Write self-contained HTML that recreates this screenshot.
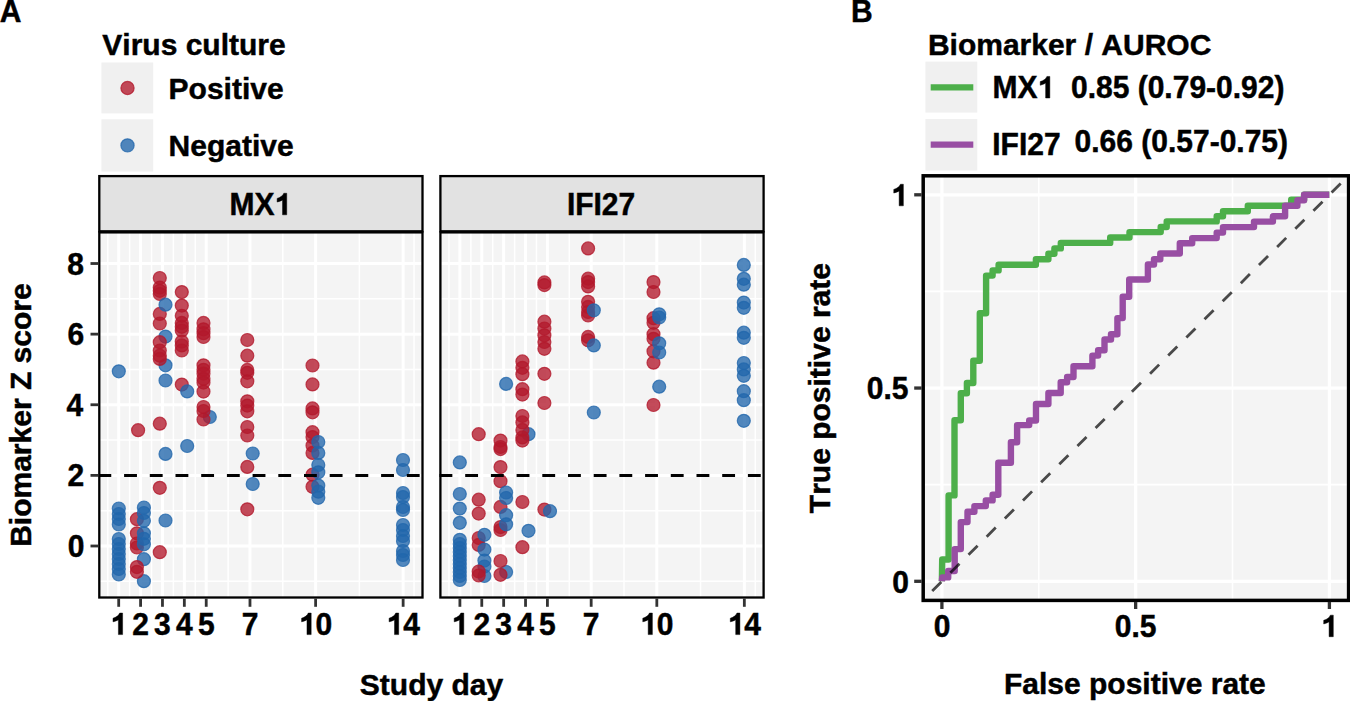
<!DOCTYPE html>
<html><head><meta charset="utf-8"><style>
html,body{margin:0;padding:0;background:#fff;}
svg{display:block;}
</style></head><body>
<svg width="1350" height="701" viewBox="0 0 1350 701">
<rect x="0" y="0" width="1350" height="701" fill="#fff"/>
<rect x="101.4" y="62.5" width="51.8" height="50.9" fill="#f0f0f0"/>
<rect x="101.4" y="119.3" width="51.8" height="52.3" fill="#f0f0f0"/>
<rect x="925.4" y="61.6" width="51.9" height="51.0" fill="#f0f0f0"/>
<rect x="925.4" y="119.0" width="51.9" height="51.6" fill="#f0f0f0"/>
<circle cx="127.5" cy="88.0" r="6.6" fill="#b2182b" fill-opacity="0.78" stroke="#b2182b" stroke-opacity="0.78" stroke-width="1.2"/>
<circle cx="127.5" cy="145.4" r="6.6" fill="#2166ac" fill-opacity="0.78" stroke="#2166ac" stroke-opacity="0.78" stroke-width="1.2"/>
<line x1="930.7" y1="87.3" x2="973.3" y2="87.3" stroke="#4daf4a" stroke-width="6.2"/>
<line x1="930.7" y1="144.6" x2="973.3" y2="144.6" stroke="#984ea3" stroke-width="6.2"/>
<rect x="99.3" y="231.3" width="323.20" height="366.20" fill="#f4f4f4"/>
<line x1="107.76" y1="231.3" x2="107.76" y2="597.5" stroke="#fff" stroke-width="1.5"/>
<line x1="129.64" y1="231.3" x2="129.64" y2="597.5" stroke="#fff" stroke-width="1.5"/>
<line x1="151.52" y1="231.3" x2="151.52" y2="597.5" stroke="#fff" stroke-width="1.5"/>
<line x1="173.40" y1="231.3" x2="173.40" y2="597.5" stroke="#fff" stroke-width="1.5"/>
<line x1="195.28" y1="231.3" x2="195.28" y2="597.5" stroke="#fff" stroke-width="1.5"/>
<line x1="228.10" y1="231.3" x2="228.10" y2="597.5" stroke="#fff" stroke-width="1.5"/>
<line x1="282.80" y1="231.3" x2="282.80" y2="597.5" stroke="#fff" stroke-width="1.5"/>
<line x1="359.38" y1="231.3" x2="359.38" y2="597.5" stroke="#fff" stroke-width="1.5"/>
<line x1="414.08" y1="231.3" x2="414.08" y2="597.5" stroke="#fff" stroke-width="1.5"/>
<line x1="99.3" y1="581.31" x2="422.5" y2="581.31" stroke="#fff" stroke-width="1.5"/>
<line x1="99.3" y1="510.69" x2="422.5" y2="510.69" stroke="#fff" stroke-width="1.5"/>
<line x1="99.3" y1="440.07" x2="422.5" y2="440.07" stroke="#fff" stroke-width="1.5"/>
<line x1="99.3" y1="369.45" x2="422.5" y2="369.45" stroke="#fff" stroke-width="1.5"/>
<line x1="99.3" y1="298.83" x2="422.5" y2="298.83" stroke="#fff" stroke-width="1.5"/>
<line x1="118.70" y1="231.3" x2="118.70" y2="597.5" stroke="#fff" stroke-width="3"/>
<line x1="140.58" y1="231.3" x2="140.58" y2="597.5" stroke="#fff" stroke-width="3"/>
<line x1="162.46" y1="231.3" x2="162.46" y2="597.5" stroke="#fff" stroke-width="3"/>
<line x1="184.34" y1="231.3" x2="184.34" y2="597.5" stroke="#fff" stroke-width="3"/>
<line x1="206.22" y1="231.3" x2="206.22" y2="597.5" stroke="#fff" stroke-width="3"/>
<line x1="249.98" y1="231.3" x2="249.98" y2="597.5" stroke="#fff" stroke-width="3"/>
<line x1="315.62" y1="231.3" x2="315.62" y2="597.5" stroke="#fff" stroke-width="3"/>
<line x1="403.14" y1="231.3" x2="403.14" y2="597.5" stroke="#fff" stroke-width="3"/>
<line x1="99.3" y1="546.00" x2="422.5" y2="546.00" stroke="#fff" stroke-width="3"/>
<line x1="99.3" y1="475.38" x2="422.5" y2="475.38" stroke="#fff" stroke-width="3"/>
<line x1="99.3" y1="404.76" x2="422.5" y2="404.76" stroke="#fff" stroke-width="3"/>
<line x1="99.3" y1="334.14" x2="422.5" y2="334.14" stroke="#fff" stroke-width="3"/>
<line x1="99.3" y1="263.52" x2="422.5" y2="263.52" stroke="#fff" stroke-width="3"/>
<rect x="440.4" y="231.3" width="323.20" height="366.20" fill="#f4f4f4"/>
<line x1="448.96" y1="231.3" x2="448.96" y2="597.5" stroke="#fff" stroke-width="1.5"/>
<line x1="470.84" y1="231.3" x2="470.84" y2="597.5" stroke="#fff" stroke-width="1.5"/>
<line x1="492.72" y1="231.3" x2="492.72" y2="597.5" stroke="#fff" stroke-width="1.5"/>
<line x1="514.60" y1="231.3" x2="514.60" y2="597.5" stroke="#fff" stroke-width="1.5"/>
<line x1="536.48" y1="231.3" x2="536.48" y2="597.5" stroke="#fff" stroke-width="1.5"/>
<line x1="569.30" y1="231.3" x2="569.30" y2="597.5" stroke="#fff" stroke-width="1.5"/>
<line x1="624.00" y1="231.3" x2="624.00" y2="597.5" stroke="#fff" stroke-width="1.5"/>
<line x1="700.58" y1="231.3" x2="700.58" y2="597.5" stroke="#fff" stroke-width="1.5"/>
<line x1="755.28" y1="231.3" x2="755.28" y2="597.5" stroke="#fff" stroke-width="1.5"/>
<line x1="440.4" y1="581.31" x2="763.6" y2="581.31" stroke="#fff" stroke-width="1.5"/>
<line x1="440.4" y1="510.69" x2="763.6" y2="510.69" stroke="#fff" stroke-width="1.5"/>
<line x1="440.4" y1="440.07" x2="763.6" y2="440.07" stroke="#fff" stroke-width="1.5"/>
<line x1="440.4" y1="369.45" x2="763.6" y2="369.45" stroke="#fff" stroke-width="1.5"/>
<line x1="440.4" y1="298.83" x2="763.6" y2="298.83" stroke="#fff" stroke-width="1.5"/>
<line x1="459.90" y1="231.3" x2="459.90" y2="597.5" stroke="#fff" stroke-width="3"/>
<line x1="481.78" y1="231.3" x2="481.78" y2="597.5" stroke="#fff" stroke-width="3"/>
<line x1="503.66" y1="231.3" x2="503.66" y2="597.5" stroke="#fff" stroke-width="3"/>
<line x1="525.54" y1="231.3" x2="525.54" y2="597.5" stroke="#fff" stroke-width="3"/>
<line x1="547.42" y1="231.3" x2="547.42" y2="597.5" stroke="#fff" stroke-width="3"/>
<line x1="591.18" y1="231.3" x2="591.18" y2="597.5" stroke="#fff" stroke-width="3"/>
<line x1="656.82" y1="231.3" x2="656.82" y2="597.5" stroke="#fff" stroke-width="3"/>
<line x1="744.34" y1="231.3" x2="744.34" y2="597.5" stroke="#fff" stroke-width="3"/>
<line x1="440.4" y1="546.00" x2="763.6" y2="546.00" stroke="#fff" stroke-width="3"/>
<line x1="440.4" y1="475.38" x2="763.6" y2="475.38" stroke="#fff" stroke-width="3"/>
<line x1="440.4" y1="404.76" x2="763.6" y2="404.76" stroke="#fff" stroke-width="3"/>
<line x1="440.4" y1="334.14" x2="763.6" y2="334.14" stroke="#fff" stroke-width="3"/>
<line x1="440.4" y1="263.52" x2="763.6" y2="263.52" stroke="#fff" stroke-width="3"/>
<circle cx="118.8" cy="371.3" r="6.5" fill="#2166ac" fill-opacity="0.78" stroke="#2166ac" stroke-opacity="0.78" stroke-width="1.2"/>
<circle cx="118.8" cy="508.5" r="6.5" fill="#2166ac" fill-opacity="0.78" stroke="#2166ac" stroke-opacity="0.78" stroke-width="1.2"/>
<circle cx="118.8" cy="514.0" r="6.5" fill="#2166ac" fill-opacity="0.78" stroke="#2166ac" stroke-opacity="0.78" stroke-width="1.2"/>
<circle cx="118.8" cy="519.0" r="6.5" fill="#2166ac" fill-opacity="0.78" stroke="#2166ac" stroke-opacity="0.78" stroke-width="1.2"/>
<circle cx="118.8" cy="524.5" r="6.5" fill="#2166ac" fill-opacity="0.78" stroke="#2166ac" stroke-opacity="0.78" stroke-width="1.2"/>
<circle cx="118.8" cy="539.0" r="6.5" fill="#2166ac" fill-opacity="0.78" stroke="#2166ac" stroke-opacity="0.78" stroke-width="1.2"/>
<circle cx="118.8" cy="544.0" r="6.5" fill="#2166ac" fill-opacity="0.78" stroke="#2166ac" stroke-opacity="0.78" stroke-width="1.2"/>
<circle cx="118.8" cy="549.0" r="6.5" fill="#2166ac" fill-opacity="0.78" stroke="#2166ac" stroke-opacity="0.78" stroke-width="1.2"/>
<circle cx="118.8" cy="554.0" r="6.5" fill="#2166ac" fill-opacity="0.78" stroke="#2166ac" stroke-opacity="0.78" stroke-width="1.2"/>
<circle cx="118.8" cy="559.0" r="6.5" fill="#2166ac" fill-opacity="0.78" stroke="#2166ac" stroke-opacity="0.78" stroke-width="1.2"/>
<circle cx="118.8" cy="564.0" r="6.5" fill="#2166ac" fill-opacity="0.78" stroke="#2166ac" stroke-opacity="0.78" stroke-width="1.2"/>
<circle cx="118.8" cy="569.0" r="6.5" fill="#2166ac" fill-opacity="0.78" stroke="#2166ac" stroke-opacity="0.78" stroke-width="1.2"/>
<circle cx="118.8" cy="574.5" r="6.5" fill="#2166ac" fill-opacity="0.78" stroke="#2166ac" stroke-opacity="0.78" stroke-width="1.2"/>
<circle cx="138.1" cy="430.2" r="6.5" fill="#b2182b" fill-opacity="0.78" stroke="#b2182b" stroke-opacity="0.78" stroke-width="1.2"/>
<circle cx="136.9" cy="519.2" r="6.5" fill="#b2182b" fill-opacity="0.78" stroke="#b2182b" stroke-opacity="0.78" stroke-width="1.2"/>
<circle cx="136.9" cy="533.3" r="6.5" fill="#b2182b" fill-opacity="0.78" stroke="#b2182b" stroke-opacity="0.78" stroke-width="1.2"/>
<circle cx="136.9" cy="543.5" r="6.5" fill="#b2182b" fill-opacity="0.78" stroke="#b2182b" stroke-opacity="0.78" stroke-width="1.2"/>
<circle cx="136.9" cy="547.5" r="6.5" fill="#b2182b" fill-opacity="0.78" stroke="#b2182b" stroke-opacity="0.78" stroke-width="1.2"/>
<circle cx="143.9" cy="507.5" r="6.5" fill="#2166ac" fill-opacity="0.78" stroke="#2166ac" stroke-opacity="0.78" stroke-width="1.2"/>
<circle cx="143.9" cy="513.0" r="6.5" fill="#2166ac" fill-opacity="0.78" stroke="#2166ac" stroke-opacity="0.78" stroke-width="1.2"/>
<circle cx="143.9" cy="520.8" r="6.5" fill="#2166ac" fill-opacity="0.78" stroke="#2166ac" stroke-opacity="0.78" stroke-width="1.2"/>
<circle cx="143.9" cy="533.3" r="6.5" fill="#2166ac" fill-opacity="0.78" stroke="#2166ac" stroke-opacity="0.78" stroke-width="1.2"/>
<circle cx="143.9" cy="538.8" r="6.5" fill="#2166ac" fill-opacity="0.78" stroke="#2166ac" stroke-opacity="0.78" stroke-width="1.2"/>
<circle cx="143.9" cy="544.3" r="6.5" fill="#2166ac" fill-opacity="0.78" stroke="#2166ac" stroke-opacity="0.78" stroke-width="1.2"/>
<circle cx="143.9" cy="559.2" r="6.5" fill="#2166ac" fill-opacity="0.78" stroke="#2166ac" stroke-opacity="0.78" stroke-width="1.2"/>
<circle cx="143.9" cy="581.2" r="6.5" fill="#2166ac" fill-opacity="0.78" stroke="#2166ac" stroke-opacity="0.78" stroke-width="1.2"/>
<circle cx="136.9" cy="567.1" r="6.5" fill="#b2182b" fill-opacity="0.78" stroke="#b2182b" stroke-opacity="0.78" stroke-width="1.2"/>
<circle cx="136.9" cy="571.8" r="6.5" fill="#b2182b" fill-opacity="0.78" stroke="#b2182b" stroke-opacity="0.78" stroke-width="1.2"/>
<circle cx="159.8" cy="278.0" r="6.5" fill="#b2182b" fill-opacity="0.78" stroke="#b2182b" stroke-opacity="0.78" stroke-width="1.2"/>
<circle cx="159.8" cy="287.6" r="6.5" fill="#b2182b" fill-opacity="0.78" stroke="#b2182b" stroke-opacity="0.78" stroke-width="1.2"/>
<circle cx="159.8" cy="290.8" r="6.5" fill="#b2182b" fill-opacity="0.78" stroke="#b2182b" stroke-opacity="0.78" stroke-width="1.2"/>
<circle cx="159.8" cy="294.0" r="6.5" fill="#b2182b" fill-opacity="0.78" stroke="#b2182b" stroke-opacity="0.78" stroke-width="1.2"/>
<circle cx="159.8" cy="313.9" r="6.5" fill="#b2182b" fill-opacity="0.78" stroke="#b2182b" stroke-opacity="0.78" stroke-width="1.2"/>
<circle cx="159.8" cy="323.5" r="6.5" fill="#b2182b" fill-opacity="0.78" stroke="#b2182b" stroke-opacity="0.78" stroke-width="1.2"/>
<circle cx="159.8" cy="423.7" r="6.5" fill="#b2182b" fill-opacity="0.78" stroke="#b2182b" stroke-opacity="0.78" stroke-width="1.2"/>
<circle cx="159.8" cy="487.8" r="6.5" fill="#b2182b" fill-opacity="0.78" stroke="#b2182b" stroke-opacity="0.78" stroke-width="1.2"/>
<circle cx="159.8" cy="552.2" r="6.5" fill="#b2182b" fill-opacity="0.78" stroke="#b2182b" stroke-opacity="0.78" stroke-width="1.2"/>
<circle cx="165.5" cy="304.7" r="6.5" fill="#2166ac" fill-opacity="0.78" stroke="#2166ac" stroke-opacity="0.78" stroke-width="1.2"/>
<circle cx="165.5" cy="336.6" r="6.5" fill="#2166ac" fill-opacity="0.78" stroke="#2166ac" stroke-opacity="0.78" stroke-width="1.2"/>
<circle cx="165.5" cy="365.3" r="6.5" fill="#2166ac" fill-opacity="0.78" stroke="#2166ac" stroke-opacity="0.78" stroke-width="1.2"/>
<circle cx="165.5" cy="380.5" r="6.5" fill="#2166ac" fill-opacity="0.78" stroke="#2166ac" stroke-opacity="0.78" stroke-width="1.2"/>
<circle cx="165.5" cy="453.9" r="6.5" fill="#2166ac" fill-opacity="0.78" stroke="#2166ac" stroke-opacity="0.78" stroke-width="1.2"/>
<circle cx="165.5" cy="520.5" r="6.5" fill="#2166ac" fill-opacity="0.78" stroke="#2166ac" stroke-opacity="0.78" stroke-width="1.2"/>
<circle cx="159.8" cy="342.2" r="6.5" fill="#b2182b" fill-opacity="0.78" stroke="#b2182b" stroke-opacity="0.78" stroke-width="1.2"/>
<circle cx="159.8" cy="350.5" r="6.5" fill="#b2182b" fill-opacity="0.78" stroke="#b2182b" stroke-opacity="0.78" stroke-width="1.2"/>
<circle cx="159.8" cy="355.7" r="6.5" fill="#b2182b" fill-opacity="0.78" stroke="#b2182b" stroke-opacity="0.78" stroke-width="1.2"/>
<circle cx="159.8" cy="358.9" r="6.5" fill="#b2182b" fill-opacity="0.78" stroke="#b2182b" stroke-opacity="0.78" stroke-width="1.2"/>
<circle cx="181.8" cy="292.1" r="6.5" fill="#b2182b" fill-opacity="0.78" stroke="#b2182b" stroke-opacity="0.78" stroke-width="1.2"/>
<circle cx="181.8" cy="305.6" r="6.5" fill="#b2182b" fill-opacity="0.78" stroke="#b2182b" stroke-opacity="0.78" stroke-width="1.2"/>
<circle cx="181.8" cy="315.8" r="6.5" fill="#b2182b" fill-opacity="0.78" stroke="#b2182b" stroke-opacity="0.78" stroke-width="1.2"/>
<circle cx="181.8" cy="322.9" r="6.5" fill="#b2182b" fill-opacity="0.78" stroke="#b2182b" stroke-opacity="0.78" stroke-width="1.2"/>
<circle cx="181.8" cy="326.8" r="6.5" fill="#b2182b" fill-opacity="0.78" stroke="#b2182b" stroke-opacity="0.78" stroke-width="1.2"/>
<circle cx="181.8" cy="330.6" r="6.5" fill="#b2182b" fill-opacity="0.78" stroke="#b2182b" stroke-opacity="0.78" stroke-width="1.2"/>
<circle cx="181.8" cy="341.6" r="6.5" fill="#b2182b" fill-opacity="0.78" stroke="#b2182b" stroke-opacity="0.78" stroke-width="1.2"/>
<circle cx="181.8" cy="345.4" r="6.5" fill="#b2182b" fill-opacity="0.78" stroke="#b2182b" stroke-opacity="0.78" stroke-width="1.2"/>
<circle cx="181.8" cy="350.5" r="6.5" fill="#b2182b" fill-opacity="0.78" stroke="#b2182b" stroke-opacity="0.78" stroke-width="1.2"/>
<circle cx="181.8" cy="384.6" r="6.5" fill="#b2182b" fill-opacity="0.78" stroke="#b2182b" stroke-opacity="0.78" stroke-width="1.2"/>
<circle cx="187.2" cy="391.4" r="6.5" fill="#2166ac" fill-opacity="0.78" stroke="#2166ac" stroke-opacity="0.78" stroke-width="1.2"/>
<circle cx="187.2" cy="446.0" r="6.5" fill="#2166ac" fill-opacity="0.78" stroke="#2166ac" stroke-opacity="0.78" stroke-width="1.2"/>
<circle cx="209.8" cy="417.0" r="6.5" fill="#2166ac" fill-opacity="0.78" stroke="#2166ac" stroke-opacity="0.78" stroke-width="1.2"/>
<circle cx="203.5" cy="322.9" r="6.5" fill="#b2182b" fill-opacity="0.78" stroke="#b2182b" stroke-opacity="0.78" stroke-width="1.2"/>
<circle cx="203.5" cy="329.3" r="6.5" fill="#b2182b" fill-opacity="0.78" stroke="#b2182b" stroke-opacity="0.78" stroke-width="1.2"/>
<circle cx="203.5" cy="333.2" r="6.5" fill="#b2182b" fill-opacity="0.78" stroke="#b2182b" stroke-opacity="0.78" stroke-width="1.2"/>
<circle cx="203.5" cy="337.0" r="6.5" fill="#b2182b" fill-opacity="0.78" stroke="#b2182b" stroke-opacity="0.78" stroke-width="1.2"/>
<circle cx="203.5" cy="365.3" r="6.5" fill="#b2182b" fill-opacity="0.78" stroke="#b2182b" stroke-opacity="0.78" stroke-width="1.2"/>
<circle cx="203.5" cy="369.8" r="6.5" fill="#b2182b" fill-opacity="0.78" stroke="#b2182b" stroke-opacity="0.78" stroke-width="1.2"/>
<circle cx="203.5" cy="373.6" r="6.5" fill="#b2182b" fill-opacity="0.78" stroke="#b2182b" stroke-opacity="0.78" stroke-width="1.2"/>
<circle cx="203.5" cy="378.8" r="6.5" fill="#b2182b" fill-opacity="0.78" stroke="#b2182b" stroke-opacity="0.78" stroke-width="1.2"/>
<circle cx="203.5" cy="382.6" r="6.5" fill="#b2182b" fill-opacity="0.78" stroke="#b2182b" stroke-opacity="0.78" stroke-width="1.2"/>
<circle cx="203.5" cy="391.6" r="6.5" fill="#b2182b" fill-opacity="0.78" stroke="#b2182b" stroke-opacity="0.78" stroke-width="1.2"/>
<circle cx="203.5" cy="407.0" r="6.5" fill="#b2182b" fill-opacity="0.78" stroke="#b2182b" stroke-opacity="0.78" stroke-width="1.2"/>
<circle cx="203.5" cy="411.0" r="6.5" fill="#b2182b" fill-opacity="0.78" stroke="#b2182b" stroke-opacity="0.78" stroke-width="1.2"/>
<circle cx="203.5" cy="419.5" r="6.5" fill="#b2182b" fill-opacity="0.78" stroke="#b2182b" stroke-opacity="0.78" stroke-width="1.2"/>
<circle cx="247.3" cy="340.0" r="6.5" fill="#b2182b" fill-opacity="0.78" stroke="#b2182b" stroke-opacity="0.78" stroke-width="1.2"/>
<circle cx="247.3" cy="355.7" r="6.5" fill="#b2182b" fill-opacity="0.78" stroke="#b2182b" stroke-opacity="0.78" stroke-width="1.2"/>
<circle cx="247.3" cy="369.9" r="6.5" fill="#b2182b" fill-opacity="0.78" stroke="#b2182b" stroke-opacity="0.78" stroke-width="1.2"/>
<circle cx="247.3" cy="372.8" r="6.5" fill="#b2182b" fill-opacity="0.78" stroke="#b2182b" stroke-opacity="0.78" stroke-width="1.2"/>
<circle cx="247.3" cy="381.3" r="6.5" fill="#b2182b" fill-opacity="0.78" stroke="#b2182b" stroke-opacity="0.78" stroke-width="1.2"/>
<circle cx="247.3" cy="401.3" r="6.5" fill="#b2182b" fill-opacity="0.78" stroke="#b2182b" stroke-opacity="0.78" stroke-width="1.2"/>
<circle cx="247.3" cy="405.6" r="6.5" fill="#b2182b" fill-opacity="0.78" stroke="#b2182b" stroke-opacity="0.78" stroke-width="1.2"/>
<circle cx="247.3" cy="411.3" r="6.5" fill="#b2182b" fill-opacity="0.78" stroke="#b2182b" stroke-opacity="0.78" stroke-width="1.2"/>
<circle cx="247.3" cy="427.0" r="6.5" fill="#b2182b" fill-opacity="0.78" stroke="#b2182b" stroke-opacity="0.78" stroke-width="1.2"/>
<circle cx="247.3" cy="435.5" r="6.5" fill="#b2182b" fill-opacity="0.78" stroke="#b2182b" stroke-opacity="0.78" stroke-width="1.2"/>
<circle cx="247.3" cy="466.9" r="6.5" fill="#b2182b" fill-opacity="0.78" stroke="#b2182b" stroke-opacity="0.78" stroke-width="1.2"/>
<circle cx="247.3" cy="509.3" r="6.5" fill="#b2182b" fill-opacity="0.78" stroke="#b2182b" stroke-opacity="0.78" stroke-width="1.2"/>
<circle cx="252.7" cy="453.5" r="6.5" fill="#2166ac" fill-opacity="0.78" stroke="#2166ac" stroke-opacity="0.78" stroke-width="1.2"/>
<circle cx="252.7" cy="484.0" r="6.5" fill="#2166ac" fill-opacity="0.78" stroke="#2166ac" stroke-opacity="0.78" stroke-width="1.2"/>
<circle cx="312.5" cy="365.5" r="6.5" fill="#b2182b" fill-opacity="0.78" stroke="#b2182b" stroke-opacity="0.78" stroke-width="1.2"/>
<circle cx="312.5" cy="384.4" r="6.5" fill="#b2182b" fill-opacity="0.78" stroke="#b2182b" stroke-opacity="0.78" stroke-width="1.2"/>
<circle cx="312.5" cy="408.4" r="6.5" fill="#b2182b" fill-opacity="0.78" stroke="#b2182b" stroke-opacity="0.78" stroke-width="1.2"/>
<circle cx="312.5" cy="412.3" r="6.5" fill="#b2182b" fill-opacity="0.78" stroke="#b2182b" stroke-opacity="0.78" stroke-width="1.2"/>
<circle cx="312.5" cy="432.2" r="6.5" fill="#b2182b" fill-opacity="0.78" stroke="#b2182b" stroke-opacity="0.78" stroke-width="1.2"/>
<circle cx="312.5" cy="437.1" r="6.5" fill="#b2182b" fill-opacity="0.78" stroke="#b2182b" stroke-opacity="0.78" stroke-width="1.2"/>
<circle cx="312.5" cy="445.6" r="6.5" fill="#b2182b" fill-opacity="0.78" stroke="#b2182b" stroke-opacity="0.78" stroke-width="1.2"/>
<circle cx="312.5" cy="452.9" r="6.5" fill="#b2182b" fill-opacity="0.78" stroke="#b2182b" stroke-opacity="0.78" stroke-width="1.2"/>
<circle cx="312.5" cy="474.7" r="6.5" fill="#b2182b" fill-opacity="0.78" stroke="#b2182b" stroke-opacity="0.78" stroke-width="1.2"/>
<circle cx="312.5" cy="486.8" r="6.5" fill="#b2182b" fill-opacity="0.78" stroke="#b2182b" stroke-opacity="0.78" stroke-width="1.2"/>
<circle cx="318.3" cy="442.0" r="6.5" fill="#2166ac" fill-opacity="0.78" stroke="#2166ac" stroke-opacity="0.78" stroke-width="1.2"/>
<circle cx="318.3" cy="452.9" r="6.5" fill="#2166ac" fill-opacity="0.78" stroke="#2166ac" stroke-opacity="0.78" stroke-width="1.2"/>
<circle cx="318.3" cy="465.0" r="6.5" fill="#2166ac" fill-opacity="0.78" stroke="#2166ac" stroke-opacity="0.78" stroke-width="1.2"/>
<circle cx="318.3" cy="472.3" r="6.5" fill="#2166ac" fill-opacity="0.78" stroke="#2166ac" stroke-opacity="0.78" stroke-width="1.2"/>
<circle cx="318.3" cy="485.6" r="6.5" fill="#2166ac" fill-opacity="0.78" stroke="#2166ac" stroke-opacity="0.78" stroke-width="1.2"/>
<circle cx="318.3" cy="491.7" r="6.5" fill="#2166ac" fill-opacity="0.78" stroke="#2166ac" stroke-opacity="0.78" stroke-width="1.2"/>
<circle cx="318.3" cy="497.8" r="6.5" fill="#2166ac" fill-opacity="0.78" stroke="#2166ac" stroke-opacity="0.78" stroke-width="1.2"/>
<circle cx="403.0" cy="460.0" r="6.5" fill="#2166ac" fill-opacity="0.78" stroke="#2166ac" stroke-opacity="0.78" stroke-width="1.2"/>
<circle cx="403.0" cy="470.0" r="6.5" fill="#2166ac" fill-opacity="0.78" stroke="#2166ac" stroke-opacity="0.78" stroke-width="1.2"/>
<circle cx="403.0" cy="493.0" r="6.5" fill="#2166ac" fill-opacity="0.78" stroke="#2166ac" stroke-opacity="0.78" stroke-width="1.2"/>
<circle cx="403.0" cy="497.0" r="6.5" fill="#2166ac" fill-opacity="0.78" stroke="#2166ac" stroke-opacity="0.78" stroke-width="1.2"/>
<circle cx="403.0" cy="507.0" r="6.5" fill="#2166ac" fill-opacity="0.78" stroke="#2166ac" stroke-opacity="0.78" stroke-width="1.2"/>
<circle cx="403.0" cy="510.0" r="6.5" fill="#2166ac" fill-opacity="0.78" stroke="#2166ac" stroke-opacity="0.78" stroke-width="1.2"/>
<circle cx="403.0" cy="525.0" r="6.5" fill="#2166ac" fill-opacity="0.78" stroke="#2166ac" stroke-opacity="0.78" stroke-width="1.2"/>
<circle cx="403.0" cy="530.0" r="6.5" fill="#2166ac" fill-opacity="0.78" stroke="#2166ac" stroke-opacity="0.78" stroke-width="1.2"/>
<circle cx="403.0" cy="536.0" r="6.5" fill="#2166ac" fill-opacity="0.78" stroke="#2166ac" stroke-opacity="0.78" stroke-width="1.2"/>
<circle cx="403.0" cy="541.0" r="6.5" fill="#2166ac" fill-opacity="0.78" stroke="#2166ac" stroke-opacity="0.78" stroke-width="1.2"/>
<circle cx="403.0" cy="551.0" r="6.5" fill="#2166ac" fill-opacity="0.78" stroke="#2166ac" stroke-opacity="0.78" stroke-width="1.2"/>
<circle cx="403.0" cy="555.0" r="6.5" fill="#2166ac" fill-opacity="0.78" stroke="#2166ac" stroke-opacity="0.78" stroke-width="1.2"/>
<circle cx="403.0" cy="560.0" r="6.5" fill="#2166ac" fill-opacity="0.78" stroke="#2166ac" stroke-opacity="0.78" stroke-width="1.2"/>
<circle cx="459.8" cy="462.4" r="6.5" fill="#2166ac" fill-opacity="0.78" stroke="#2166ac" stroke-opacity="0.78" stroke-width="1.2"/>
<circle cx="459.8" cy="494.0" r="6.5" fill="#2166ac" fill-opacity="0.78" stroke="#2166ac" stroke-opacity="0.78" stroke-width="1.2"/>
<circle cx="459.8" cy="508.6" r="6.5" fill="#2166ac" fill-opacity="0.78" stroke="#2166ac" stroke-opacity="0.78" stroke-width="1.2"/>
<circle cx="459.8" cy="522.8" r="6.5" fill="#2166ac" fill-opacity="0.78" stroke="#2166ac" stroke-opacity="0.78" stroke-width="1.2"/>
<circle cx="459.8" cy="539.8" r="6.5" fill="#2166ac" fill-opacity="0.78" stroke="#2166ac" stroke-opacity="0.78" stroke-width="1.2"/>
<circle cx="459.8" cy="544.0" r="6.5" fill="#2166ac" fill-opacity="0.78" stroke="#2166ac" stroke-opacity="0.78" stroke-width="1.2"/>
<circle cx="459.8" cy="548.0" r="6.5" fill="#2166ac" fill-opacity="0.78" stroke="#2166ac" stroke-opacity="0.78" stroke-width="1.2"/>
<circle cx="459.8" cy="552.0" r="6.5" fill="#2166ac" fill-opacity="0.78" stroke="#2166ac" stroke-opacity="0.78" stroke-width="1.2"/>
<circle cx="459.8" cy="556.0" r="6.5" fill="#2166ac" fill-opacity="0.78" stroke="#2166ac" stroke-opacity="0.78" stroke-width="1.2"/>
<circle cx="459.8" cy="560.0" r="6.5" fill="#2166ac" fill-opacity="0.78" stroke="#2166ac" stroke-opacity="0.78" stroke-width="1.2"/>
<circle cx="459.8" cy="564.0" r="6.5" fill="#2166ac" fill-opacity="0.78" stroke="#2166ac" stroke-opacity="0.78" stroke-width="1.2"/>
<circle cx="459.8" cy="568.0" r="6.5" fill="#2166ac" fill-opacity="0.78" stroke="#2166ac" stroke-opacity="0.78" stroke-width="1.2"/>
<circle cx="459.8" cy="572.0" r="6.5" fill="#2166ac" fill-opacity="0.78" stroke="#2166ac" stroke-opacity="0.78" stroke-width="1.2"/>
<circle cx="459.8" cy="576.0" r="6.5" fill="#2166ac" fill-opacity="0.78" stroke="#2166ac" stroke-opacity="0.78" stroke-width="1.2"/>
<circle cx="459.8" cy="580.0" r="6.5" fill="#2166ac" fill-opacity="0.78" stroke="#2166ac" stroke-opacity="0.78" stroke-width="1.2"/>
<circle cx="478.7" cy="434.2" r="6.5" fill="#b2182b" fill-opacity="0.78" stroke="#b2182b" stroke-opacity="0.78" stroke-width="1.2"/>
<circle cx="478.7" cy="499.7" r="6.5" fill="#b2182b" fill-opacity="0.78" stroke="#b2182b" stroke-opacity="0.78" stroke-width="1.2"/>
<circle cx="478.7" cy="513.6" r="6.5" fill="#b2182b" fill-opacity="0.78" stroke="#b2182b" stroke-opacity="0.78" stroke-width="1.2"/>
<circle cx="478.7" cy="538.0" r="6.5" fill="#b2182b" fill-opacity="0.78" stroke="#b2182b" stroke-opacity="0.78" stroke-width="1.2"/>
<circle cx="478.7" cy="544.9" r="6.5" fill="#b2182b" fill-opacity="0.78" stroke="#b2182b" stroke-opacity="0.78" stroke-width="1.2"/>
<circle cx="484.4" cy="534.8" r="6.5" fill="#2166ac" fill-opacity="0.78" stroke="#2166ac" stroke-opacity="0.78" stroke-width="1.2"/>
<circle cx="484.4" cy="549.6" r="6.5" fill="#2166ac" fill-opacity="0.78" stroke="#2166ac" stroke-opacity="0.78" stroke-width="1.2"/>
<circle cx="484.4" cy="560.6" r="6.5" fill="#2166ac" fill-opacity="0.78" stroke="#2166ac" stroke-opacity="0.78" stroke-width="1.2"/>
<circle cx="484.4" cy="566.5" r="6.5" fill="#2166ac" fill-opacity="0.78" stroke="#2166ac" stroke-opacity="0.78" stroke-width="1.2"/>
<circle cx="484.4" cy="576.0" r="6.5" fill="#2166ac" fill-opacity="0.78" stroke="#2166ac" stroke-opacity="0.78" stroke-width="1.2"/>
<circle cx="478.7" cy="571.5" r="6.5" fill="#b2182b" fill-opacity="0.78" stroke="#b2182b" stroke-opacity="0.78" stroke-width="1.2"/>
<circle cx="478.7" cy="575.5" r="6.5" fill="#b2182b" fill-opacity="0.78" stroke="#b2182b" stroke-opacity="0.78" stroke-width="1.2"/>
<circle cx="500.5" cy="440.6" r="6.5" fill="#b2182b" fill-opacity="0.78" stroke="#b2182b" stroke-opacity="0.78" stroke-width="1.2"/>
<circle cx="500.5" cy="447.0" r="6.5" fill="#b2182b" fill-opacity="0.78" stroke="#b2182b" stroke-opacity="0.78" stroke-width="1.2"/>
<circle cx="500.5" cy="449.1" r="6.5" fill="#b2182b" fill-opacity="0.78" stroke="#b2182b" stroke-opacity="0.78" stroke-width="1.2"/>
<circle cx="500.5" cy="467.1" r="6.5" fill="#b2182b" fill-opacity="0.78" stroke="#b2182b" stroke-opacity="0.78" stroke-width="1.2"/>
<circle cx="500.5" cy="481.2" r="6.5" fill="#b2182b" fill-opacity="0.78" stroke="#b2182b" stroke-opacity="0.78" stroke-width="1.2"/>
<circle cx="500.5" cy="506.9" r="6.5" fill="#b2182b" fill-opacity="0.78" stroke="#b2182b" stroke-opacity="0.78" stroke-width="1.2"/>
<circle cx="500.5" cy="527.1" r="6.5" fill="#b2182b" fill-opacity="0.78" stroke="#b2182b" stroke-opacity="0.78" stroke-width="1.2"/>
<circle cx="500.5" cy="530.0" r="6.5" fill="#b2182b" fill-opacity="0.78" stroke="#b2182b" stroke-opacity="0.78" stroke-width="1.2"/>
<circle cx="506.1" cy="383.9" r="6.5" fill="#2166ac" fill-opacity="0.78" stroke="#2166ac" stroke-opacity="0.78" stroke-width="1.2"/>
<circle cx="506.1" cy="492.5" r="6.5" fill="#2166ac" fill-opacity="0.78" stroke="#2166ac" stroke-opacity="0.78" stroke-width="1.2"/>
<circle cx="506.1" cy="498.0" r="6.5" fill="#2166ac" fill-opacity="0.78" stroke="#2166ac" stroke-opacity="0.78" stroke-width="1.2"/>
<circle cx="506.1" cy="515.2" r="6.5" fill="#2166ac" fill-opacity="0.78" stroke="#2166ac" stroke-opacity="0.78" stroke-width="1.2"/>
<circle cx="506.1" cy="524.3" r="6.5" fill="#2166ac" fill-opacity="0.78" stroke="#2166ac" stroke-opacity="0.78" stroke-width="1.2"/>
<circle cx="506.1" cy="572.0" r="6.5" fill="#2166ac" fill-opacity="0.78" stroke="#2166ac" stroke-opacity="0.78" stroke-width="1.2"/>
<circle cx="500.5" cy="561.0" r="6.5" fill="#b2182b" fill-opacity="0.78" stroke="#b2182b" stroke-opacity="0.78" stroke-width="1.2"/>
<circle cx="500.5" cy="574.8" r="6.5" fill="#b2182b" fill-opacity="0.78" stroke="#b2182b" stroke-opacity="0.78" stroke-width="1.2"/>
<circle cx="528.5" cy="434.2" r="6.5" fill="#2166ac" fill-opacity="0.78" stroke="#2166ac" stroke-opacity="0.78" stroke-width="1.2"/>
<circle cx="528.5" cy="530.8" r="6.5" fill="#2166ac" fill-opacity="0.78" stroke="#2166ac" stroke-opacity="0.78" stroke-width="1.2"/>
<circle cx="522.4" cy="361.4" r="6.5" fill="#b2182b" fill-opacity="0.78" stroke="#b2182b" stroke-opacity="0.78" stroke-width="1.2"/>
<circle cx="522.4" cy="367.8" r="6.5" fill="#b2182b" fill-opacity="0.78" stroke="#b2182b" stroke-opacity="0.78" stroke-width="1.2"/>
<circle cx="522.4" cy="374.2" r="6.5" fill="#b2182b" fill-opacity="0.78" stroke="#b2182b" stroke-opacity="0.78" stroke-width="1.2"/>
<circle cx="522.4" cy="389.2" r="6.5" fill="#b2182b" fill-opacity="0.78" stroke="#b2182b" stroke-opacity="0.78" stroke-width="1.2"/>
<circle cx="522.4" cy="394.6" r="6.5" fill="#b2182b" fill-opacity="0.78" stroke="#b2182b" stroke-opacity="0.78" stroke-width="1.2"/>
<circle cx="522.4" cy="416.0" r="6.5" fill="#b2182b" fill-opacity="0.78" stroke="#b2182b" stroke-opacity="0.78" stroke-width="1.2"/>
<circle cx="522.4" cy="422.4" r="6.5" fill="#b2182b" fill-opacity="0.78" stroke="#b2182b" stroke-opacity="0.78" stroke-width="1.2"/>
<circle cx="522.4" cy="429.9" r="6.5" fill="#b2182b" fill-opacity="0.78" stroke="#b2182b" stroke-opacity="0.78" stroke-width="1.2"/>
<circle cx="522.4" cy="437.4" r="6.5" fill="#b2182b" fill-opacity="0.78" stroke="#b2182b" stroke-opacity="0.78" stroke-width="1.2"/>
<circle cx="522.4" cy="440.6" r="6.5" fill="#b2182b" fill-opacity="0.78" stroke="#b2182b" stroke-opacity="0.78" stroke-width="1.2"/>
<circle cx="522.4" cy="502.0" r="6.5" fill="#b2182b" fill-opacity="0.78" stroke="#b2182b" stroke-opacity="0.78" stroke-width="1.2"/>
<circle cx="522.4" cy="547.2" r="6.5" fill="#b2182b" fill-opacity="0.78" stroke="#b2182b" stroke-opacity="0.78" stroke-width="1.2"/>
<circle cx="544.4" cy="282.4" r="6.5" fill="#b2182b" fill-opacity="0.78" stroke="#b2182b" stroke-opacity="0.78" stroke-width="1.2"/>
<circle cx="544.4" cy="285.1" r="6.5" fill="#b2182b" fill-opacity="0.78" stroke="#b2182b" stroke-opacity="0.78" stroke-width="1.2"/>
<circle cx="544.4" cy="321.7" r="6.5" fill="#b2182b" fill-opacity="0.78" stroke="#b2182b" stroke-opacity="0.78" stroke-width="1.2"/>
<circle cx="544.4" cy="328.5" r="6.5" fill="#b2182b" fill-opacity="0.78" stroke="#b2182b" stroke-opacity="0.78" stroke-width="1.2"/>
<circle cx="544.4" cy="335.3" r="6.5" fill="#b2182b" fill-opacity="0.78" stroke="#b2182b" stroke-opacity="0.78" stroke-width="1.2"/>
<circle cx="544.4" cy="342.0" r="6.5" fill="#b2182b" fill-opacity="0.78" stroke="#b2182b" stroke-opacity="0.78" stroke-width="1.2"/>
<circle cx="544.4" cy="348.8" r="6.5" fill="#b2182b" fill-opacity="0.78" stroke="#b2182b" stroke-opacity="0.78" stroke-width="1.2"/>
<circle cx="544.4" cy="373.8" r="6.5" fill="#b2182b" fill-opacity="0.78" stroke="#b2182b" stroke-opacity="0.78" stroke-width="1.2"/>
<circle cx="544.4" cy="403.0" r="6.5" fill="#b2182b" fill-opacity="0.78" stroke="#b2182b" stroke-opacity="0.78" stroke-width="1.2"/>
<circle cx="544.4" cy="509.6" r="6.5" fill="#b2182b" fill-opacity="0.78" stroke="#b2182b" stroke-opacity="0.78" stroke-width="1.2"/>
<circle cx="550.0" cy="511.2" r="6.5" fill="#2166ac" fill-opacity="0.78" stroke="#2166ac" stroke-opacity="0.78" stroke-width="1.2"/>
<circle cx="588.1" cy="248.4" r="6.5" fill="#b2182b" fill-opacity="0.78" stroke="#b2182b" stroke-opacity="0.78" stroke-width="1.2"/>
<circle cx="588.1" cy="278.7" r="6.5" fill="#b2182b" fill-opacity="0.78" stroke="#b2182b" stroke-opacity="0.78" stroke-width="1.2"/>
<circle cx="588.1" cy="282.1" r="6.5" fill="#b2182b" fill-opacity="0.78" stroke="#b2182b" stroke-opacity="0.78" stroke-width="1.2"/>
<circle cx="588.1" cy="286.4" r="6.5" fill="#b2182b" fill-opacity="0.78" stroke="#b2182b" stroke-opacity="0.78" stroke-width="1.2"/>
<circle cx="588.1" cy="301.8" r="6.5" fill="#b2182b" fill-opacity="0.78" stroke="#b2182b" stroke-opacity="0.78" stroke-width="1.2"/>
<circle cx="588.1" cy="306.9" r="6.5" fill="#b2182b" fill-opacity="0.78" stroke="#b2182b" stroke-opacity="0.78" stroke-width="1.2"/>
<circle cx="588.1" cy="312.0" r="6.5" fill="#b2182b" fill-opacity="0.78" stroke="#b2182b" stroke-opacity="0.78" stroke-width="1.2"/>
<circle cx="588.1" cy="315.5" r="6.5" fill="#b2182b" fill-opacity="0.78" stroke="#b2182b" stroke-opacity="0.78" stroke-width="1.2"/>
<circle cx="588.1" cy="336.9" r="6.5" fill="#b2182b" fill-opacity="0.78" stroke="#b2182b" stroke-opacity="0.78" stroke-width="1.2"/>
<circle cx="588.1" cy="340.3" r="6.5" fill="#b2182b" fill-opacity="0.78" stroke="#b2182b" stroke-opacity="0.78" stroke-width="1.2"/>
<circle cx="593.8" cy="310.3" r="6.5" fill="#2166ac" fill-opacity="0.78" stroke="#2166ac" stroke-opacity="0.78" stroke-width="1.2"/>
<circle cx="593.8" cy="345.4" r="6.5" fill="#2166ac" fill-opacity="0.78" stroke="#2166ac" stroke-opacity="0.78" stroke-width="1.2"/>
<circle cx="593.8" cy="412.5" r="6.5" fill="#2166ac" fill-opacity="0.78" stroke="#2166ac" stroke-opacity="0.78" stroke-width="1.2"/>
<circle cx="653.5" cy="282.1" r="6.5" fill="#b2182b" fill-opacity="0.78" stroke="#b2182b" stroke-opacity="0.78" stroke-width="1.2"/>
<circle cx="653.5" cy="292.0" r="6.5" fill="#b2182b" fill-opacity="0.78" stroke="#b2182b" stroke-opacity="0.78" stroke-width="1.2"/>
<circle cx="653.5" cy="318.2" r="6.5" fill="#b2182b" fill-opacity="0.78" stroke="#b2182b" stroke-opacity="0.78" stroke-width="1.2"/>
<circle cx="653.5" cy="322.8" r="6.5" fill="#b2182b" fill-opacity="0.78" stroke="#b2182b" stroke-opacity="0.78" stroke-width="1.2"/>
<circle cx="653.5" cy="334.2" r="6.5" fill="#b2182b" fill-opacity="0.78" stroke="#b2182b" stroke-opacity="0.78" stroke-width="1.2"/>
<circle cx="653.5" cy="338.8" r="6.5" fill="#b2182b" fill-opacity="0.78" stroke="#b2182b" stroke-opacity="0.78" stroke-width="1.2"/>
<circle cx="653.5" cy="351.3" r="6.5" fill="#b2182b" fill-opacity="0.78" stroke="#b2182b" stroke-opacity="0.78" stroke-width="1.2"/>
<circle cx="653.5" cy="362.7" r="6.5" fill="#b2182b" fill-opacity="0.78" stroke="#b2182b" stroke-opacity="0.78" stroke-width="1.2"/>
<circle cx="653.5" cy="405.0" r="6.5" fill="#b2182b" fill-opacity="0.78" stroke="#b2182b" stroke-opacity="0.78" stroke-width="1.2"/>
<circle cx="659.2" cy="314.3" r="6.5" fill="#2166ac" fill-opacity="0.78" stroke="#2166ac" stroke-opacity="0.78" stroke-width="1.2"/>
<circle cx="659.2" cy="317.5" r="6.5" fill="#2166ac" fill-opacity="0.78" stroke="#2166ac" stroke-opacity="0.78" stroke-width="1.2"/>
<circle cx="659.2" cy="343.3" r="6.5" fill="#2166ac" fill-opacity="0.78" stroke="#2166ac" stroke-opacity="0.78" stroke-width="1.2"/>
<circle cx="659.2" cy="352.5" r="6.5" fill="#2166ac" fill-opacity="0.78" stroke="#2166ac" stroke-opacity="0.78" stroke-width="1.2"/>
<circle cx="659.2" cy="386.7" r="6.5" fill="#2166ac" fill-opacity="0.78" stroke="#2166ac" stroke-opacity="0.78" stroke-width="1.2"/>
<circle cx="743.8" cy="264.9" r="6.5" fill="#2166ac" fill-opacity="0.78" stroke="#2166ac" stroke-opacity="0.78" stroke-width="1.2"/>
<circle cx="743.8" cy="278.8" r="6.5" fill="#2166ac" fill-opacity="0.78" stroke="#2166ac" stroke-opacity="0.78" stroke-width="1.2"/>
<circle cx="743.8" cy="284.7" r="6.5" fill="#2166ac" fill-opacity="0.78" stroke="#2166ac" stroke-opacity="0.78" stroke-width="1.2"/>
<circle cx="743.8" cy="302.6" r="6.5" fill="#2166ac" fill-opacity="0.78" stroke="#2166ac" stroke-opacity="0.78" stroke-width="1.2"/>
<circle cx="743.8" cy="307.8" r="6.5" fill="#2166ac" fill-opacity="0.78" stroke="#2166ac" stroke-opacity="0.78" stroke-width="1.2"/>
<circle cx="743.8" cy="332.7" r="6.5" fill="#2166ac" fill-opacity="0.78" stroke="#2166ac" stroke-opacity="0.78" stroke-width="1.2"/>
<circle cx="743.8" cy="337.8" r="6.5" fill="#2166ac" fill-opacity="0.78" stroke="#2166ac" stroke-opacity="0.78" stroke-width="1.2"/>
<circle cx="743.8" cy="363.0" r="6.5" fill="#2166ac" fill-opacity="0.78" stroke="#2166ac" stroke-opacity="0.78" stroke-width="1.2"/>
<circle cx="743.8" cy="369.4" r="6.5" fill="#2166ac" fill-opacity="0.78" stroke="#2166ac" stroke-opacity="0.78" stroke-width="1.2"/>
<circle cx="743.8" cy="375.8" r="6.5" fill="#2166ac" fill-opacity="0.78" stroke="#2166ac" stroke-opacity="0.78" stroke-width="1.2"/>
<circle cx="743.8" cy="391.2" r="6.5" fill="#2166ac" fill-opacity="0.78" stroke="#2166ac" stroke-opacity="0.78" stroke-width="1.2"/>
<circle cx="743.8" cy="400.2" r="6.5" fill="#2166ac" fill-opacity="0.78" stroke="#2166ac" stroke-opacity="0.78" stroke-width="1.2"/>
<circle cx="743.8" cy="420.8" r="6.5" fill="#2166ac" fill-opacity="0.78" stroke="#2166ac" stroke-opacity="0.78" stroke-width="1.2"/>
<line x1="98.40" y1="475.38" x2="422.5" y2="475.38" stroke="#000" stroke-width="3" stroke-dasharray="12.85 12.85"/>
<line x1="439.50" y1="475.38" x2="763.6" y2="475.38" stroke="#000" stroke-width="3" stroke-dasharray="12.85 12.85"/>
<rect x="99.3" y="176.1" width="323.20" height="55.20" fill="#e2e2e2" stroke="#000" stroke-width="2.3"/>
<rect x="99.3" y="232.4" width="323.20" height="365.10" fill="none" stroke="#000" stroke-width="2.3"/>
<line x1="118.70" y1="598.5" x2="118.70" y2="606.8" stroke="#333333" stroke-width="2.8"/>
<line x1="140.58" y1="598.5" x2="140.58" y2="606.8" stroke="#333333" stroke-width="2.8"/>
<line x1="162.46" y1="598.5" x2="162.46" y2="606.8" stroke="#333333" stroke-width="2.8"/>
<line x1="184.34" y1="598.5" x2="184.34" y2="606.8" stroke="#333333" stroke-width="2.8"/>
<line x1="206.22" y1="598.5" x2="206.22" y2="606.8" stroke="#333333" stroke-width="2.8"/>
<line x1="249.98" y1="598.5" x2="249.98" y2="606.8" stroke="#333333" stroke-width="2.8"/>
<line x1="315.62" y1="598.5" x2="315.62" y2="606.8" stroke="#333333" stroke-width="2.8"/>
<line x1="403.14" y1="598.5" x2="403.14" y2="606.8" stroke="#333333" stroke-width="2.8"/>
<rect x="440.4" y="176.1" width="323.20" height="55.20" fill="#e2e2e2" stroke="#000" stroke-width="2.3"/>
<rect x="440.4" y="232.4" width="323.20" height="365.10" fill="none" stroke="#000" stroke-width="2.3"/>
<line x1="459.90" y1="598.5" x2="459.90" y2="606.8" stroke="#333333" stroke-width="2.8"/>
<line x1="481.78" y1="598.5" x2="481.78" y2="606.8" stroke="#333333" stroke-width="2.8"/>
<line x1="503.66" y1="598.5" x2="503.66" y2="606.8" stroke="#333333" stroke-width="2.8"/>
<line x1="525.54" y1="598.5" x2="525.54" y2="606.8" stroke="#333333" stroke-width="2.8"/>
<line x1="547.42" y1="598.5" x2="547.42" y2="606.8" stroke="#333333" stroke-width="2.8"/>
<line x1="591.18" y1="598.5" x2="591.18" y2="606.8" stroke="#333333" stroke-width="2.8"/>
<line x1="656.82" y1="598.5" x2="656.82" y2="606.8" stroke="#333333" stroke-width="2.8"/>
<line x1="744.34" y1="598.5" x2="744.34" y2="606.8" stroke="#333333" stroke-width="2.8"/>
<line x1="90.5" y1="546.00" x2="98.5" y2="546.00" stroke="#333333" stroke-width="2.8"/>
<line x1="90.5" y1="475.38" x2="98.5" y2="475.38" stroke="#333333" stroke-width="2.8"/>
<line x1="90.5" y1="404.76" x2="98.5" y2="404.76" stroke="#333333" stroke-width="2.8"/>
<line x1="90.5" y1="334.14" x2="98.5" y2="334.14" stroke="#333333" stroke-width="2.8"/>
<line x1="90.5" y1="263.52" x2="98.5" y2="263.52" stroke="#333333" stroke-width="2.8"/>
<rect x="923.2" y="175.8" width="425.40" height="424.60" fill="#f4f4f4"/>
<line x1="1038.78" y1="175.8" x2="1038.78" y2="600.4" stroke="#fff" stroke-width="1.6"/>
<line x1="923.2" y1="484.67" x2="1348.6" y2="484.67" stroke="#fff" stroke-width="1.6"/>
<line x1="1232.53" y1="175.8" x2="1232.53" y2="600.4" stroke="#fff" stroke-width="1.6"/>
<line x1="923.2" y1="291.42" x2="1348.6" y2="291.42" stroke="#fff" stroke-width="1.6"/>
<line x1="941.90" y1="175.8" x2="941.90" y2="600.4" stroke="#fff" stroke-width="3.2"/>
<line x1="923.2" y1="581.30" x2="1348.6" y2="581.30" stroke="#fff" stroke-width="3.2"/>
<line x1="1135.65" y1="175.8" x2="1135.65" y2="600.4" stroke="#fff" stroke-width="3.2"/>
<line x1="923.2" y1="388.05" x2="1348.6" y2="388.05" stroke="#fff" stroke-width="3.2"/>
<line x1="1329.40" y1="175.8" x2="1329.40" y2="600.4" stroke="#fff" stroke-width="3.2"/>
<line x1="923.2" y1="194.80" x2="1348.6" y2="194.80" stroke="#fff" stroke-width="3.2"/>
<polyline points="941.9,581.3 942.2,559.5 948.6,559.5 948.6,495.4 954.5,495.4 954.5,420.3 960.8,420.3 960.8,393.3 966.9,393.3 966.9,383.0 973.3,383.0 973.3,360.8 979.8,360.8 979.8,313.2 986.1,313.2 986.1,275.6 992.6,275.6 992.6,270.4 998.6,270.4 998.6,264.7 1035.9,264.7 1035.9,259.3 1048.4,259.3 1048.4,253.8 1054.4,253.8 1054.4,248.4 1060.8,248.4 1060.8,242.9 1110.2,242.9 1110.2,237.5 1129.5,237.5 1129.5,232.1 1160.7,232.1 1160.7,227.0 1166.7,227.0 1166.7,221.4 1216.7,221.4 1216.7,216.3 1223.0,216.3 1223.0,211.2 1247.8,211.2 1247.8,205.7 1291.2,205.7 1291.2,199.8 1304.1,199.8 1304.1,194.8 1329.3,194.8" fill="none" stroke="#4daf4a" stroke-width="6.4" stroke-linejoin="round" stroke-linecap="butt"/>
<polyline points="941.9,581.3 942.2,577.4 948.2,577.4 948.2,571.0 954.7,571.0 954.7,549.1 960.8,549.1 960.8,522.1 967.5,522.1 967.5,511.8 974.4,511.8 974.4,506.1 985.8,506.1 985.8,500.4 992.6,500.4 992.6,494.7 998.3,494.7 998.3,462.7 1010.9,462.7 1010.9,442.2 1017.1,442.2 1017.1,425.1 1029.2,425.1 1029.2,420.5 1036.0,420.5 1036.0,404.0 1048.4,404.0 1048.4,393.0 1060.7,393.0 1060.7,382.3 1067.1,382.3 1067.1,377.0 1073.5,377.0 1073.5,366.3 1092.4,366.3 1092.4,355.6 1098.1,355.6 1098.1,350.2 1104.5,350.2 1104.5,339.5 1111.0,339.5 1111.0,334.2 1117.4,334.2 1117.4,318.1 1122.7,318.1 1122.7,296.7 1129.2,296.7 1129.2,279.5 1147.9,279.5 1147.9,264.5 1154.0,264.5 1154.0,259.3 1160.3,259.3 1160.3,253.5 1179.8,253.5 1179.8,243.2 1192.2,243.2 1192.2,238.1 1216.7,238.1 1216.7,232.6 1223.0,232.6 1223.0,227.1 1254.0,227.1 1254.0,221.6 1272.9,221.6 1272.9,216.3 1285.1,216.3 1285.1,205.7 1297.4,205.7 1297.4,200.2 1304.1,200.2 1304.1,194.8 1329.3,194.8" fill="none" stroke="#984ea3" stroke-width="6.4" stroke-linejoin="round" stroke-linecap="butt"/>
<clipPath id="rc"><rect x="923.2" y="175.8" width="425.40" height="424.60"/></clipPath>
<line x1="932.21" y1="590.96" x2="1348.78" y2="175.47" stroke="#000" stroke-opacity="0.7" stroke-width="2.8" stroke-dasharray="12.82 12.82" clip-path="url(#rc)"/>
<rect x="923.2" y="175.8" width="425.40" height="424.60" fill="none" stroke="#000" stroke-width="3.5"/>
<line x1="941.90" y1="601.9" x2="941.90" y2="609.0" stroke="#333333" stroke-width="3.3"/>
<line x1="914.2" y1="581.30" x2="921.7" y2="581.30" stroke="#333333" stroke-width="3.3"/>
<line x1="1135.65" y1="601.9" x2="1135.65" y2="609.0" stroke="#333333" stroke-width="3.3"/>
<line x1="914.2" y1="388.05" x2="921.7" y2="388.05" stroke="#333333" stroke-width="3.3"/>
<line x1="1329.40" y1="601.9" x2="1329.40" y2="609.0" stroke="#333333" stroke-width="3.3"/>
<line x1="914.2" y1="194.80" x2="921.7" y2="194.80" stroke="#333333" stroke-width="3.3"/>
<g font-family="&quot;Liberation Sans&quot;, sans-serif" font-weight="bold" font-size="30" fill="#000" stroke="#000" stroke-width="0.45" style="font-kerning:none">
<text transform="translate(-0.15,21.70) scale(1,1.04)">A</text>
<text transform="translate(851.09,21.80) scale(1,1.04)">B</text>
<text transform="translate(102.29,55.00) scale(1,1.0)">Virus culture</text>
<text transform="translate(168.59,98.90) scale(1,1.0)">Positive</text>
<text transform="translate(168.59,156.00) scale(1,1.0)">Negative</text>
<text transform="translate(927.89,55.40) scale(1,1.0)">Biomarker / AUROC</text>
<text transform="translate(992.59,98.00) scale(1,1.04)">MX</text>
<path transform="translate(1037.59,98.00)" d="M8.04 0L12.24 0L12.24 -21.55L9.3 -21.55C8.4 -19.2 6.0 -17.3 2.64 -16.4L2.64 -12.75C4.8 -13.3 6.7 -14.0 8.04 -14.9Z"/>
<text transform="translate(1071.01,98.00) scale(1,1.04)">0.85 (0.79-0.92)</text>
<text transform="translate(992.29,155.40) scale(1,1.04)">IFI27</text>
<text transform="translate(1074.61,152.20) scale(1,1.04)">0.66 (0.57-0.75)</text>
<text transform="translate(229.49,214.80) scale(1,1.04)">MX</text>
<path transform="translate(274.49,214.80)" d="M8.04 0L12.24 0L12.24 -21.55L9.3 -21.55C8.4 -19.2 6.0 -17.3 2.64 -16.4L2.64 -12.75C4.8 -13.3 6.7 -14.0 8.04 -14.9Z"/>
<text transform="translate(566.89,214.80) scale(1,1.04)">IFI27</text>
<text transform="translate(359.84,694.70) scale(1,1.0)">Study day</text>
<text transform="translate(1003.99,694.20) scale(1,1.0)">False positive rate</text>
<g transform="translate(118.70,0)">
<path transform="translate(-8.34,634.60)" d="M8.04 0L12.24 0L12.24 -21.55L9.3 -21.55C8.4 -19.2 6.0 -17.3 2.64 -16.4L2.64 -12.75C4.8 -13.3 6.7 -14.0 8.04 -14.9Z"/>
</g>
<g transform="translate(140.58,0)">
<text transform="translate(-8.34,634.60) scale(1,1.04)">2</text>
</g>
<g transform="translate(162.46,0)">
<text transform="translate(-8.34,634.60) scale(1,1.04)">3</text>
</g>
<g transform="translate(184.34,0)">
<text transform="translate(-8.34,634.60) scale(1,1.04)">4</text>
</g>
<g transform="translate(206.22,0)">
<text transform="translate(-8.34,634.60) scale(1,1.04)">5</text>
</g>
<g transform="translate(249.98,0)">
<text transform="translate(-8.34,634.60) scale(1,1.04)">7</text>
</g>
<g transform="translate(315.62,0)">
<path transform="translate(-16.68,634.60)" d="M8.04 0L12.24 0L12.24 -21.55L9.3 -21.55C8.4 -19.2 6.0 -17.3 2.64 -16.4L2.64 -12.75C4.8 -13.3 6.7 -14.0 8.04 -14.9Z"/>
<text transform="translate(0.00,634.60) scale(1,1.04)">0</text>
</g>
<g transform="translate(403.14,0)">
<path transform="translate(-16.68,634.60)" d="M8.04 0L12.24 0L12.24 -21.55L9.3 -21.55C8.4 -19.2 6.0 -17.3 2.64 -16.4L2.64 -12.75C4.8 -13.3 6.7 -14.0 8.04 -14.9Z"/>
<text transform="translate(0.00,634.60) scale(1,1.04)">4</text>
</g>
<g transform="translate(459.90,0)">
<path transform="translate(-8.34,634.60)" d="M8.04 0L12.24 0L12.24 -21.55L9.3 -21.55C8.4 -19.2 6.0 -17.3 2.64 -16.4L2.64 -12.75C4.8 -13.3 6.7 -14.0 8.04 -14.9Z"/>
</g>
<g transform="translate(481.78,0)">
<text transform="translate(-8.34,634.60) scale(1,1.04)">2</text>
</g>
<g transform="translate(503.66,0)">
<text transform="translate(-8.34,634.60) scale(1,1.04)">3</text>
</g>
<g transform="translate(525.54,0)">
<text transform="translate(-8.34,634.60) scale(1,1.04)">4</text>
</g>
<g transform="translate(547.42,0)">
<text transform="translate(-8.34,634.60) scale(1,1.04)">5</text>
</g>
<g transform="translate(591.18,0)">
<text transform="translate(-8.34,634.60) scale(1,1.04)">7</text>
</g>
<g transform="translate(656.82,0)">
<path transform="translate(-16.68,634.60)" d="M8.04 0L12.24 0L12.24 -21.55L9.3 -21.55C8.4 -19.2 6.0 -17.3 2.64 -16.4L2.64 -12.75C4.8 -13.3 6.7 -14.0 8.04 -14.9Z"/>
<text transform="translate(0.00,634.60) scale(1,1.04)">0</text>
</g>
<g transform="translate(744.34,0)">
<path transform="translate(-16.68,634.60)" d="M8.04 0L12.24 0L12.24 -21.55L9.3 -21.55C8.4 -19.2 6.0 -17.3 2.64 -16.4L2.64 -12.75C4.8 -13.3 6.7 -14.0 8.04 -14.9Z"/>
<text transform="translate(0.00,634.60) scale(1,1.04)">4</text>
</g>
<text transform="translate(67.65,557.00) scale(1,1.04)">0</text>
<text transform="translate(67.62,486.38) scale(1,1.04)">2</text>
<text transform="translate(66.58,415.76) scale(1,1.04)">4</text>
<text transform="translate(67.50,345.14) scale(1,1.04)">6</text>
<text transform="translate(67.34,274.52) scale(1,1.04)">8</text>
<text transform="translate(933.86,636.70) scale(1,1.04)">0</text>
<text transform="translate(1114.80,636.70) scale(1,1.04)">0.5</text>
<path transform="translate(1321.06,636.70)" d="M8.04 0L12.24 0L12.24 -21.55L9.3 -21.55C8.4 -19.2 6.0 -17.3 2.64 -16.4L2.64 -12.75C4.8 -13.3 6.7 -14.0 8.04 -14.9Z"/>
<text transform="translate(866.73,399.25) scale(1,1.04)">0.5</text>
<text transform="translate(892.15,592.50) scale(1,1.04)">0</text>
<path transform="translate(891.12,205.80)" d="M8.04 0L12.24 0L12.24 -21.55L9.3 -21.55C8.4 -19.2 6.0 -17.3 2.64 -16.4L2.64 -12.75C4.8 -13.3 6.7 -14.0 8.04 -14.9Z"/>
<text transform="translate(30.9,546.81) rotate(-90)">Biomarker Z score</text>
<text transform="translate(830.0,513.14) rotate(-90)">True positive rate</text>
</g>
</svg>
</body></html>
